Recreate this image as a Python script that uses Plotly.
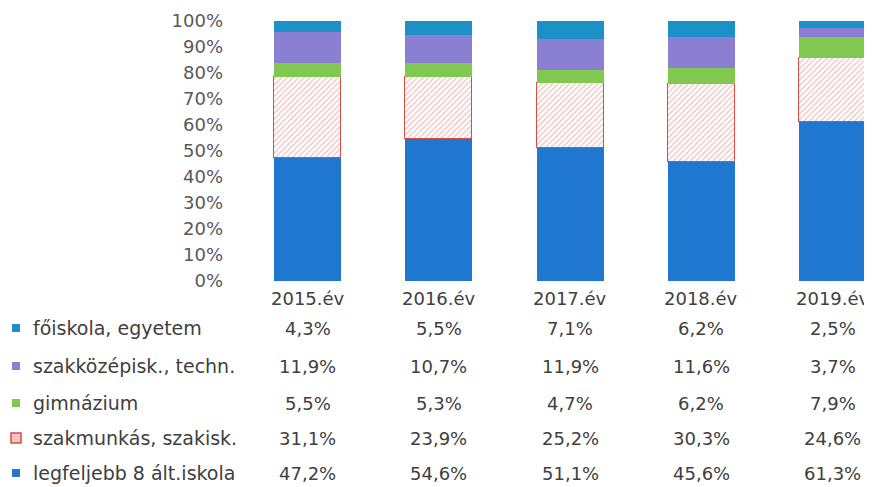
import plotly.graph_objects as go

years = ["2015.év", "2016.év", "2017.év", "2018.év", "2019.év"]
series_names = ["legfeljebb 8 ált.iskola", "szakmunkás, szakisk.", "gimnázium",
                "szakközépisk., techn.", "főiskola, egyetem"]
legfeljebb = [47.2, 54.6, 51.1, 45.6, 61.3]
szakmunkas = [31.1, 23.9, 25.2, 30.3, 24.6]
gimnazium = [5.5, 5.3, 4.7, 6.2, 7.9]
szakkozep = [11.9, 10.7, 11.9, 11.6, 3.7]
foiskola = [4.3, 5.5, 7.1, 6.2, 2.5]
y_ticks = [0, 10, 20, 30, 40, 50, 60, 70, 80, 90, 100]

values = [legfeljebb, szakmunkas, gimnazium, szakkozep, foiskola]
colors = ["#1f77d0", "#ffffff", "#80c850", "#8a7fd2", "#1e90c8"]

W, H = 872, 487
OFF = 8  # page body margin


def px(v):
    return (v - OFF) / W


def py(v):
    return 1 - (v - OFF) / H


unit = 131.25
x_left = 242
x_dom = [px(x_left), 1.0]
x_max = -0.5 + (W + OFF - x_left) / unit
y_dom = [py(281), py(21)]
FONT = "DejaVu Sans, Open Sans"
font_c = "#404040"

fig = go.Figure()
for i, (name, vals) in enumerate(zip(series_names, values)):
    if i == 1:
        marker = dict(color="#ffffff",
                      pattern=dict(shape="/", fgcolor="#d98a8a", bgcolor="#ffffff",
                                   size=4, solidity=0.35),
                      line=dict(color="#dc4a44", width=1.5))
    else:
        marker = dict(color=colors[i], line=dict(width=0))
    fig.add_trace(go.Bar(x=list(range(len(years))), y=vals, name=name,
                         marker=marker, width=0.51, showlegend=False))

ann = []
row_y = [298, 328, 366, 403, 438, 473]
for j, yr in enumerate(years):
    ann.append(dict(x=j, y=py(row_y[0]), xref="x", yref="paper", text=yr,
                    yanchor="middle", xanchor="center",
                    showarrow=False, font=dict(size=18, color=font_c, family=FONT)))
rows_order = [4, 3, 2, 1, 0]  # top to bottom
fmt = lambda v: f"{v:.1f}%".replace(".", ",")
for r, si in enumerate(rows_order):
    yy = py(row_y[r + 1])
    for j in range(len(years)):
        ann.append(dict(x=j, y=yy, xref="x", yref="paper", text=fmt(values[si][j]),
                        yanchor="middle", xanchor="center",
                        showarrow=False, font=dict(size=18, color=font_c, family=FONT)))
    ann.append(dict(x=px(31), y=yy, xref="paper", yref="paper", text=series_names[si],
                    xanchor="left", yanchor="middle", showarrow=False,
                    font=dict(size=19, color=font_c, family=FONT)))

shapes = []
for r, si in enumerate(rows_order):
    cy = row_y[r + 1]
    if si == 1:
        shapes.append(dict(type="rect", xref="paper", yref="paper",
                           x0=px(11), x1=px(21), y0=py(cy + 5), y1=py(cy - 5),
                           line=dict(color="#dc4a44", width=1.5), fillcolor="#f3c6c6"))
    else:
        shapes.append(dict(type="rect", xref="paper", yref="paper",
                           x0=px(12), x1=px(20), y0=py(cy + 4), y1=py(cy - 4),
                           line=dict(width=0), fillcolor=colors[si]))

fig.update_layout(
    width=W, height=H, barmode="stack",
    margin=dict(l=0, r=0, t=0, b=0, autoexpand=False),
    paper_bgcolor="white", plot_bgcolor="white",
    xaxis=dict(domain=x_dom, range=[-0.5, x_max], showticklabels=False, automargin=False,
               showgrid=False, zeroline=False, showline=False),
    yaxis=dict(domain=y_dom, range=[0, 100], tickvals=y_ticks, automargin=False,
               ticktext=[f"{v}%" for v in y_ticks], showgrid=False, zeroline=False,
               showline=False, ticklabelstandoff=18,
               tickfont=dict(size=18, color="#595959", family=FONT)),
    annotations=ann, shapes=shapes, bargap=0,
)

fig.write_html("out.html")
